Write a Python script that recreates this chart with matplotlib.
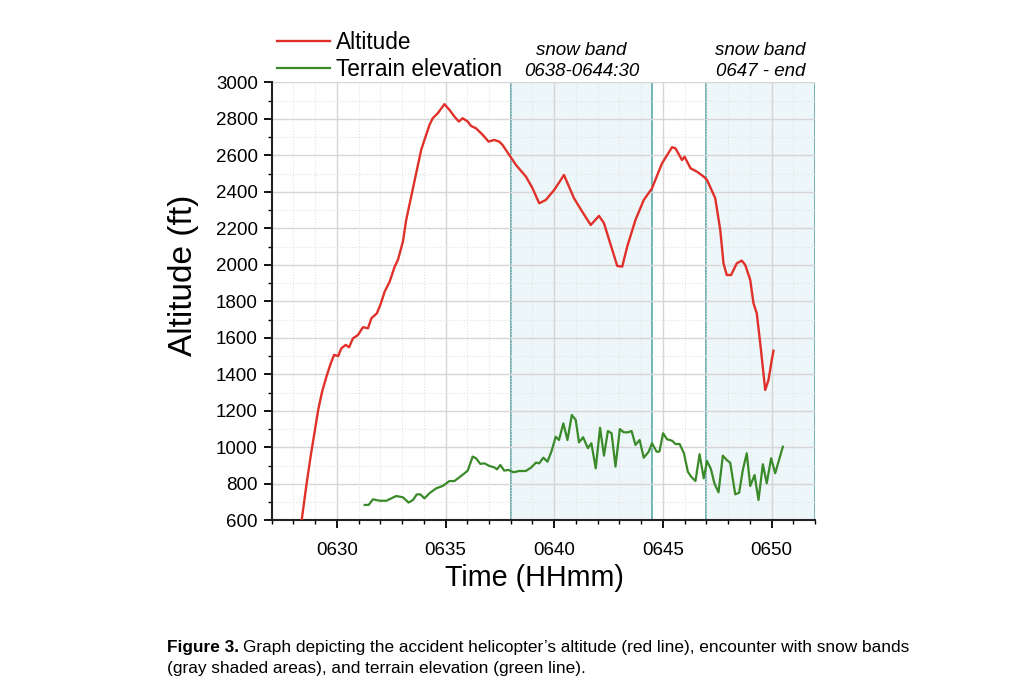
import numpy as np
import matplotlib
matplotlib.use("Agg")
import matplotlib.pyplot as plt
from matplotlib.ticker import MultipleLocator, FuncFormatter
import matplotlib.transforms as mtransforms

plt.rcParams['font.family'] = ['Liberation Sans', 'DejaVu Sans']

# minutes after 0600
alt_t = [28.38, 28.61, 28.79, 28.99, 29.14, 29.32, 29.52, 29.71, 29.87, 30.06,
         30.21, 30.41, 30.56, 30.74, 30.97, 31.20, 31.43, 31.59, 31.84, 32.00,
         32.20, 32.43, 32.66, 32.81, 33.04, 33.19, 33.42, 33.65, 33.88, 34.03,
         34.26, 34.41, 34.64, 34.95, 35.18, 35.41, 35.61, 35.79, 36.02, 36.17,
         36.40, 36.71, 36.98, 37.24, 37.47, 37.62, 37.93, 38.24, 38.70, 39.00,
         39.31, 39.61, 40.00, 40.45, 40.91, 41.29, 41.68, 42.06, 42.29, 42.60,
         42.90, 43.13, 43.36, 43.74, 44.12, 44.50, 44.96, 45.42, 45.58, 45.88,
         46.00, 46.27, 46.57, 46.88, 47.03, 47.41, 47.64, 47.79, 47.94, 48.14,
         48.40, 48.63, 48.79, 49.02, 49.17, 49.32, 49.48, 49.71, 49.86, 50.01,
         50.09]
alt_ft = [600, 803, 948, 1095, 1204, 1305, 1387, 1457, 1506, 1500,
          1543, 1561, 1548, 1597, 1615, 1658, 1652, 1707, 1734, 1780,
          1853, 1908, 1990, 2027, 2127, 2246, 2374, 2502, 2630, 2684,
          2766, 2803, 2830, 2880, 2849, 2812, 2785, 2803, 2785, 2761,
          2748, 2712, 2675, 2684, 2675, 2657, 2602, 2547, 2483, 2420,
          2337, 2355, 2410, 2492, 2365, 2291, 2218, 2268, 2228, 2109,
          1994, 1990, 2100, 2246, 2355, 2419, 2556, 2644, 2638, 2574,
          2592, 2529, 2510, 2483, 2465, 2365, 2191, 2008, 1944, 1944,
          2008, 2023, 1999, 1917, 1789, 1734, 1570, 1314, 1369, 1478,
          1529]

ter_t = [31.28, 31.46, 31.66, 31.97, 32.28, 32.73, 33.04, 33.30, 33.50, 33.68,
         33.84, 34.03, 34.26, 34.57, 34.87, 35.18, 35.41, 35.72, 36.02, 36.25,
         36.40, 36.60, 36.79, 37.01, 37.24, 37.37, 37.52, 37.70, 37.89, 38.13,
         38.39, 38.69, 38.93, 39.16, 39.31, 39.50, 39.69, 39.87, 40.07, 40.22,
         40.42, 40.61, 40.81, 40.99, 41.14, 41.33, 41.55, 41.71, 41.91, 42.11,
         42.29, 42.47, 42.64, 42.82, 43.02, 43.20, 43.40, 43.56, 43.74, 43.93,
         44.12, 44.35, 44.50, 44.71, 44.84, 45.01, 45.19, 45.42, 45.58, 45.77,
         45.97, 46.15, 46.30, 46.50, 46.69, 46.88, 47.03, 47.21, 47.37, 47.56,
         47.76, 47.94, 48.10, 48.33, 48.51, 48.68, 48.86, 49.02, 49.22, 49.40,
         49.60, 49.78, 49.98, 50.17, 50.52]
ter_ft = [684, 684, 715, 707, 707, 733, 726, 697, 711, 742,
          742, 720, 748, 775, 788, 815, 815, 843, 872, 949,
          940, 909, 912, 898, 890, 879, 903, 872, 876, 863,
          870, 870, 888, 916, 912, 943, 921, 976, 1058, 1040,
          1131, 1040, 1177, 1150, 1027, 1055, 995, 1022, 885, 1107,
          954, 1089, 1077, 894, 1100, 1082, 1082, 1089, 1013, 1040,
          943, 976, 1022, 976, 976, 1077, 1044, 1036, 1018, 1018,
          967, 866, 839, 815, 962, 830, 925, 881, 803, 753,
          954, 930, 915, 742, 751, 876, 967, 788, 848, 711,
          907, 803, 940, 858, 1003]

bands = [(38.0, 44.5), (47.0, 52.0)]
band_labels = ["snow band\n0638-0644:30", "snow band\n0647 - end"]

fig = plt.figure(figsize=(10.24, 6.95), dpi=100)
ax = fig.add_axes([0.2653, 0.2514, 0.5306, 0.6302])

for (b0, b1), lab in zip(bands, band_labels):
    ax.axvspan(b0, b1, facecolor='#edf6f8', edgecolor='#6aaeb0', lw=1.3, zorder=0)
    trans = mtransforms.blended_transform_factory(ax.transData, ax.transAxes)
    ax.text((b0 + b1) / 2, 1.005, lab, transform=trans, ha='center', va='bottom',
            fontsize=13.5, style='italic', linespacing=1.32)

ax.plot(alt_t, alt_ft, color='#e0302a', lw=1.7, label='Altitude', zorder=3)
ax.plot(ter_t, ter_ft, color='#3a8a2a', lw=1.6, label='Terrain elevation', zorder=3)

ax.set_xlim(27, 52)
ax.set_ylim(600, 3000)
ax.xaxis.set_major_locator(MultipleLocator(5))
ax.xaxis.set_minor_locator(MultipleLocator(1))
ax.yaxis.set_major_locator(MultipleLocator(200))
ax.yaxis.set_minor_locator(MultipleLocator(100))
ax.xaxis.set_major_formatter(FuncFormatter(lambda v, p: "06%02d" % int(round(v))))

ax.set_axisbelow(True)
ax.grid(which='major', color='#d6d6d6', lw=1.0, zorder=0.5)
ax.grid(which='minor', color='#e2e2e2', lw=0.8, ls=':', zorder=0.5)

for s in ['top', 'right']:
    ax.spines[s].set_visible(False)
for s in ['left', 'bottom']:
    ax.spines[s].set_linewidth(1.5)
    ax.spines[s].set_color('#222222')
ax.tick_params(which='major', direction='out', length=6, width=1.3, labelsize=13.5, pad=4)
ax.tick_params(which='minor', direction='out', length=3, width=1.0)
ax.tick_params(axis='x', pad=10)

ax.set_xlabel('Time (HHmm)', fontsize=20.7, labelpad=5)
ax.xaxis.set_label_coords(0.484, -0.1)
ax.xaxis.label.set_va('top')
ax.set_ylabel('Altitude (ft)', fontsize=24)
ax.yaxis.set_label_coords(-0.163, 0.56)
ax.yaxis.label.set_va('center')

ax.legend(loc='lower left', bbox_to_anchor=(0.01, 1.0035), frameon=False, fontsize=16.3,
          handlelength=2.35, handletextpad=0.25, labelspacing=0.18, borderpad=0,
          borderaxespad=0)

cap_font = ['Liberation Sans Narrow', 'Liberation Sans', 'DejaVu Sans']
t1 = fig.text(0.163, 0.069, "Figure 3.", fontsize=12.4, weight='bold', family=cap_font, va='center')
fig.canvas.draw()
bb = t1.get_window_extent()
x_after = (bb.x1 + 4) / fig.bbox.width
fig.text(x_after, 0.069,
         "Graph depicting the accident helicopter’s altitude (red line), encounter with snow bands",
         fontsize=12.4, family=cap_font, va='center')
fig.text(0.163, 0.038, "(gray shaded areas), and terrain elevation (green line).",
         fontsize=12.4, family=cap_font, va='center')

fig.savefig('out.png', dpi=100)
